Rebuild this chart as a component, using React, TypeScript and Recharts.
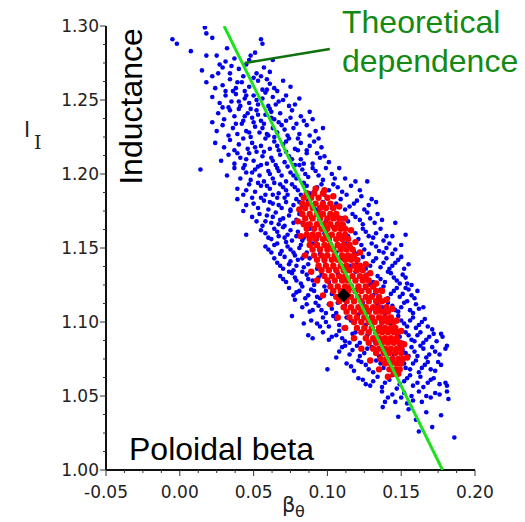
import { Scatter, ScatterChart, XAxis, YAxis } from "recharts";

type Pt = [number, number];

// blue: all shots (beta_theta, l_i)
const bluePoints: Pt[] = [
  [-0.005, 1.291], [-0.002, 1.288], [0.017, 1.299], [0.018, 1.295], [0.022, 1.292], [0.055, 1.291], [0.056, 1.288],
  [0.0075, 1.283], [0.032, 1.285], [0.025, 1.28], [0.018, 1.28], [0.051, 1.282], [0.048, 1.28],
  [0.031, 1.276], [0.029, 1.272], [0.035, 1.273], [0.015, 1.27], [0.061, 1.269], [0.04, 1.271], [0.045, 1.274],
  [0.052, 1.268], [0.057, 1.272], [0.063, 1.277], [0.043, 1.266], [0.022, 1.266], [0.037, 1.278], [0.026, 1.268],
  [0.018, 1.262], [0.029, 1.26], [0.034, 1.264], [0.038, 1.258], [0.042, 1.262], [0.047, 1.259], [0.053, 1.263],
  [0.056, 1.257], [0.061, 1.261], [0.066, 1.256], [0.075, 1.259], [0.031, 1.256], [0.044, 1.256], [0.05, 1.265],
  [0.07, 1.263], [0.024, 1.258],
  [0.022, 1.252], [0.027, 1.248], [0.031, 1.253], [0.035, 1.249], [0.038, 1.254], [0.041, 1.246], [0.044, 1.251],
  [0.047, 1.248], [0.05, 1.253], [0.053, 1.247], [0.056, 1.251], [0.06, 1.246], [0.063, 1.252], [0.067, 1.249],
  [0.072, 1.253], [0.078, 1.247], [0.081, 1.251], [0.033, 1.245], [0.058, 1.255],
  [0.022, 1.235], [0.026, 1.241], [0.03, 1.237], [0.034, 1.243], [0.037, 1.239], [0.04, 1.244], [0.043, 1.236],
  [0.046, 1.241], [0.049, 1.238], [0.052, 1.243], [0.055, 1.236], [0.058, 1.24], [0.061, 1.244], [0.064, 1.237],
  [0.068, 1.241], [0.072, 1.236], [0.076, 1.243], [0.082, 1.239], [0.088, 1.242], [0.09, 1.237], [0.053, 1.24],
  [0.025, 1.229], [0.029, 1.233], [0.033, 1.226], [0.036, 1.231], [0.039, 1.227], [0.042, 1.234], [0.045, 1.229],
  [0.048, 1.225], [0.051, 1.232], [0.054, 1.228], [0.057, 1.234], [0.06, 1.226], [0.063, 1.231], [0.066, 1.228],
  [0.069, 1.233], [0.073, 1.226], [0.077, 1.231], [0.081, 1.227], [0.086, 1.233], [0.092, 1.229], [0.097, 1.231],
  [0.024, 1.221], [0.03, 1.218], [0.034, 1.223], [0.037, 1.216], [0.04, 1.22], [0.043, 1.224], [0.046, 1.217],
  [0.049, 1.221], [0.052, 1.215], [0.055, 1.219], [0.058, 1.224], [0.061, 1.217], [0.064, 1.222], [0.067, 1.216],
  [0.07, 1.22], [0.074, 1.224], [0.078, 1.217], [0.082, 1.221], [0.086, 1.216], [0.091, 1.222], [0.096, 1.218],
  [0.028, 1.209], [0.033, 1.213], [0.037, 1.207], [0.041, 1.211], [0.044, 1.206], [0.047, 1.214], [0.05, 1.209],
  [0.053, 1.205], [0.056, 1.212], [0.059, 1.207], [0.062, 1.211], [0.065, 1.206], [0.068, 1.213], [0.071, 1.208],
  [0.074, 1.212], [0.078, 1.206], [0.082, 1.21], [0.086, 1.214], [0.09, 1.207], [0.095, 1.211], [0.101, 1.208],
  [0.014, 1.203], [0.032, 1.199], [0.037, 1.204], [0.041, 1.197], [0.045, 1.201], [0.048, 1.196], [0.051, 1.203],
  [0.054, 1.199], [0.057, 1.195], [0.06, 1.202], [0.063, 1.197], [0.066, 1.204], [0.069, 1.199], [0.072, 1.195],
  [0.075, 1.201], [0.079, 1.197], [0.083, 1.203], [0.087, 1.198], [0.092, 1.202], [0.097, 1.196], [0.103, 1.2],
  [0.108, 1.204], [0.112, 1.197], [0.127, 1.195],
  [0.039, 1.19], [0.043, 1.186], [0.047, 1.193], [0.051, 1.188], [0.055, 1.192], [0.058, 1.186], [0.061, 1.19],
  [0.064, 1.194], [0.067, 1.187], [0.07, 1.191], [0.073, 1.186], [0.076, 1.193], [0.08, 1.189], [0.084, 1.194],
  [0.088, 1.187], [0.093, 1.191], [0.098, 1.186], [0.104, 1.193], [0.11, 1.188], [0.116, 1.192], [0.122, 1.189],
  [0.039, 1.183], [0.045, 1.179], [0.049, 1.184], [0.053, 1.177], [0.057, 1.182], [0.06, 1.176], [0.063, 1.18],
  [0.066, 1.184], [0.069, 1.177], [0.072, 1.181], [0.075, 1.176], [0.079, 1.183], [0.083, 1.178], [0.087, 1.182],
  [0.092, 1.176], [0.097, 1.181], [0.103, 1.177], [0.109, 1.183], [0.115, 1.178], [0.12, 1.182], [0.125, 1.176],
  [0.13, 1.183], [0.133, 1.181],
  [0.043, 1.175], [0.052, 1.168], [0.056, 1.165], [0.049, 1.171], [0.059, 1.172], [0.062, 1.167], [0.065, 1.174],
  [0.068, 1.169], [0.071, 1.165], [0.074, 1.172], [0.077, 1.167], [0.081, 1.173], [0.085, 1.166], [0.089, 1.171],
  [0.094, 1.175], [0.099, 1.168], [0.105, 1.172], [0.111, 1.166], [0.117, 1.173], [0.122, 1.169], [0.127, 1.174],
  [0.132, 1.167], [0.137, 1.169], [0.146, 1.167],
  [0.045, 1.159], [0.055, 1.162], [0.06, 1.157], [0.064, 1.163], [0.067, 1.158], [0.07, 1.164], [0.073, 1.159],
  [0.076, 1.155], [0.08, 1.161], [0.084, 1.157], [0.088, 1.163], [0.093, 1.156], [0.098, 1.16], [0.104, 1.164],
  [0.11, 1.157], [0.116, 1.162], [0.121, 1.156], [0.126, 1.161], [0.131, 1.157], [0.136, 1.163], [0.14, 1.158],
  [0.144, 1.158], [0.153, 1.159],
  [0.058, 1.151], [0.062, 1.147], [0.066, 1.153], [0.069, 1.148], [0.072, 1.154], [0.075, 1.149], [0.078, 1.145],
  [0.082, 1.152], [0.086, 1.147], [0.09, 1.153], [0.095, 1.146], [0.1, 1.151], [0.106, 1.147], [0.112, 1.153],
  [0.118, 1.148], [0.123, 1.152], [0.128, 1.146], [0.133, 1.151], [0.138, 1.147], [0.142, 1.153], [0.146, 1.149],
  [0.15, 1.152],
  [0.064, 1.143], [0.068, 1.138], [0.071, 1.144], [0.074, 1.139], [0.077, 1.135], [0.08, 1.142], [0.084, 1.137],
  [0.088, 1.143], [0.093, 1.136], [0.098, 1.141], [0.104, 1.137], [0.11, 1.143], [0.116, 1.138], [0.121, 1.142],
  [0.126, 1.136], [0.131, 1.141], [0.136, 1.137], [0.14, 1.143], [0.144, 1.138], [0.148, 1.142], [0.152, 1.136],
  [0.155, 1.139],
  [0.068, 1.131], [0.072, 1.127], [0.076, 1.133], [0.079, 1.128], [0.083, 1.134], [0.087, 1.129], [0.091, 1.125],
  [0.096, 1.132], [0.101, 1.127], [0.107, 1.133], [0.113, 1.128], [0.119, 1.134], [0.124, 1.129], [0.129, 1.125],
  [0.134, 1.131], [0.139, 1.127], [0.143, 1.133], [0.147, 1.128], [0.151, 1.132], [0.154, 1.126], [0.157, 1.125],
  [0.074, 1.123], [0.077, 1.118], [0.081, 1.121], [0.085, 1.116], [0.089, 1.122], [0.093, 1.117], [0.098, 1.124],
  [0.103, 1.119], [0.109, 1.115], [0.115, 1.122], [0.121, 1.117], [0.126, 1.123], [0.131, 1.118], [0.136, 1.122],
  [0.141, 1.116], [0.145, 1.121], [0.149, 1.117], [0.153, 1.123], [0.157, 1.118], [0.161, 1.121],
  [0.078, 1.115], [0.083, 1.11], [0.088, 1.107], [0.092, 1.113], [0.096, 1.108], [0.101, 1.112], [0.106, 1.106],
  [0.112, 1.111], [0.118, 1.107], [0.124, 1.113], [0.129, 1.108], [0.134, 1.112], [0.139, 1.106], [0.144, 1.111],
  [0.148, 1.107], [0.152, 1.113], [0.156, 1.108], [0.16, 1.112], [0.165, 1.11],
  [0.076, 1.104], [0.084, 1.099], [0.093, 1.099], [0.097, 1.103], [0.101, 1.097], [0.106, 1.102], [0.111, 1.096],
  [0.116, 1.101], [0.121, 1.105], [0.126, 1.098], [0.131, 1.103], [0.136, 1.097], [0.141, 1.102], [0.146, 1.096],
  [0.15, 1.101], [0.154, 1.097], [0.158, 1.103], [0.162, 1.098], [0.166, 1.102], [0.171, 1.095],
  [0.087, 1.091], [0.09, 1.089], [0.103, 1.09], [0.108, 1.094], [0.112, 1.087], [0.117, 1.092], [0.122, 1.086],
  [0.127, 1.091], [0.132, 1.087], [0.137, 1.093], [0.142, 1.088], [0.147, 1.092], [0.151, 1.086], [0.155, 1.091],
  [0.159, 1.087], [0.163, 1.093], [0.167, 1.088], [0.172, 1.092], [0.177, 1.092], [0.178, 1.09],
  [0.106, 1.076], [0.11, 1.083], [0.115, 1.078], [0.12, 1.084], [0.125, 1.079], [0.13, 1.083], [0.135, 1.077],
  [0.14, 1.082], [0.145, 1.078], [0.149, 1.084], [0.153, 1.079], [0.157, 1.083], [0.161, 1.077], [0.165, 1.082],
  [0.169, 1.078], [0.173, 1.08], [0.18, 1.082], [0.181, 1.084],
  [0.1, 1.068], [0.113, 1.072], [0.118, 1.067], [0.123, 1.073], [0.128, 1.068], [0.133, 1.074], [0.138, 1.069],
  [0.143, 1.073], [0.148, 1.067], [0.152, 1.072], [0.156, 1.068], [0.16, 1.074], [0.164, 1.069], [0.168, 1.073],
  [0.173, 1.067], [0.177, 1.071],
  [0.121, 1.062], [0.126, 1.058], [0.129, 1.057], [0.134, 1.063], [0.139, 1.059], [0.144, 1.064], [0.149, 1.058],
  [0.154, 1.062], [0.158, 1.057], [0.163, 1.063], [0.168, 1.059], [0.172, 1.062], [0.181, 1.057], [0.18, 1.059],
  [0.137, 1.053], [0.139, 1.046], [0.144, 1.051], [0.15, 1.049], [0.154, 1.045], [0.158, 1.047], [0.162, 1.053],
  [0.167, 1.05], [0.173, 1.052], [0.181, 1.053], [0.182, 1.048],
  [0.1375, 1.0425], [0.148, 1.036], [0.167, 1.039], [0.177, 1.037], [0.155, 1.041], [0.16, 1.034],
  [0.162, 1.026], [0.171, 1.029], [0.186, 1.022],
];

// blue: extra shots in the dense middle of the cloud
const blueCorePoints: Pt[] = [
  [0.034, 1.268], [0.047, 1.277], [0.055, 1.266], [0.039, 1.262], [0.059, 1.264], [0.027, 1.274], [0.064, 1.258],
  [0.036, 1.256], [0.045, 1.253], [0.052, 1.25], [0.059, 1.257], [0.065, 1.247], [0.04, 1.249], [0.07, 1.25],
  [0.048, 1.244], [0.062, 1.242], [0.029, 1.245], [0.074, 1.246],
  [0.038, 1.234], [0.044, 1.239], [0.05, 1.235], [0.056, 1.231], [0.062, 1.238], [0.067, 1.235], [0.071, 1.23],
  [0.075, 1.238], [0.079, 1.234], [0.084, 1.236], [0.047, 1.228], [0.059, 1.227], [0.064, 1.225], [0.072, 1.222],
  [0.08, 1.224], [0.088, 1.226], [0.094, 1.224],
  [0.039, 1.214], [0.045, 1.21], [0.051, 1.218], [0.057, 1.215], [0.063, 1.209], [0.066, 1.219], [0.072, 1.215],
  [0.076, 1.21], [0.08, 1.216], [0.084, 1.207], [0.088, 1.219], [0.093, 1.214], [0.098, 1.212], [0.043, 1.204],
  [0.049, 1.201], [0.055, 1.206], [0.061, 1.2], [0.067, 1.202], [0.073, 1.205], [0.077, 1.199], [0.081, 1.206],
  [0.085, 1.2], [0.09, 1.204], [0.094, 1.199], [0.099, 1.204], [0.105, 1.197],
  [0.045, 1.189], [0.053, 1.194], [0.059, 1.192], [0.063, 1.186], [0.068, 1.193], [0.072, 1.189], [0.078, 1.191],
  [0.082, 1.186], [0.086, 1.192], [0.091, 1.188], [0.096, 1.193], [0.101, 1.189], [0.107, 1.191], [0.113, 1.186],
  [0.119, 1.195], [0.05, 1.18], [0.055, 1.184], [0.061, 1.181], [0.067, 1.179], [0.071, 1.184], [0.077, 1.179],
  [0.081, 1.181], [0.106, 1.18], [0.112, 1.176], [0.118, 1.18], [0.123, 1.185], [0.128, 1.179],
  [0.054, 1.173], [0.058, 1.168], [0.063, 1.171], [0.067, 1.166], [0.07, 1.17], [0.075, 1.175], [0.079, 1.169],
  [0.083, 1.167], [0.11, 1.17], [0.114, 1.168], [0.119, 1.171], [0.124, 1.166], [0.129, 1.17], [0.134, 1.173],
  [0.058, 1.16], [0.062, 1.156], [0.066, 1.161], [0.071, 1.157], [0.075, 1.162], [0.079, 1.158], [0.083, 1.155],
  [0.114, 1.158], [0.119, 1.16], [0.124, 1.163], [0.128, 1.158], [0.133, 1.16], [0.138, 1.155],
  [0.06, 1.149], [0.064, 1.152], [0.068, 1.146], [0.073, 1.151], [0.077, 1.147], [0.081, 1.15], [0.084, 1.145],
  [0.116, 1.15], [0.12, 1.146], [0.125, 1.149], [0.13, 1.153], [0.135, 1.148], [0.14, 1.15], [0.144, 1.146],
  [0.066, 1.14], [0.07, 1.136], [0.075, 1.141], [0.079, 1.138], [0.083, 1.143], [0.087, 1.139], [0.12, 1.139],
  [0.124, 1.144], [0.129, 1.138], [0.133, 1.143], [0.138, 1.14], [0.142, 1.136], [0.146, 1.14], [0.15, 1.144],
  [0.07, 1.129], [0.074, 1.134], [0.078, 1.13], [0.082, 1.126], [0.086, 1.132], [0.09, 1.128], [0.094, 1.13],
  [0.127, 1.132], [0.131, 1.127], [0.136, 1.129], [0.141, 1.134], [0.145, 1.13], [0.149, 1.126], [0.153, 1.13],
  [0.079, 1.12], [0.083, 1.124], [0.087, 1.118], [0.091, 1.121], [0.095, 1.116], [0.099, 1.121], [0.133, 1.12],
  [0.138, 1.124], [0.143, 1.119], [0.147, 1.123], [0.151, 1.119], [0.155, 1.122], [0.159, 1.116],
  [0.086, 1.112], [0.09, 1.108], [0.094, 1.111], [0.099, 1.106], [0.103, 1.109], [0.107, 1.113], [0.137, 1.11],
  [0.141, 1.113], [0.146, 1.108], [0.15, 1.11], [0.154, 1.114], [0.158, 1.106], [0.162, 1.109], [0.089, 1.101],
  [0.095, 1.097], [0.099, 1.1], [0.104, 1.104], [0.108, 1.098], [0.113, 1.103], [0.143, 1.099], [0.148, 1.104],
  [0.152, 1.099], [0.156, 1.101], [0.16, 1.096], [0.164, 1.1], [0.168, 1.097],
  [0.097, 1.093], [0.101, 1.088], [0.106, 1.091], [0.11, 1.089], [0.115, 1.086], [0.119, 1.093], [0.149, 1.09],
  [0.153, 1.093], [0.157, 1.088], [0.161, 1.091], [0.165, 1.086], [0.169, 1.09], [0.174, 1.087], [0.108, 1.08],
  [0.112, 1.084], [0.117, 1.081], [0.122, 1.077], [0.127, 1.082], [0.151, 1.081], [0.155, 1.077], [0.159, 1.08],
  [0.163, 1.084], [0.167, 1.076], [0.171, 1.083], [0.176, 1.078],
  [0.116, 1.07], [0.121, 1.074], [0.126, 1.071], [0.131, 1.066], [0.136, 1.072], [0.153, 1.069], [0.158, 1.072],
  [0.162, 1.066], [0.166, 1.071], [0.17, 1.068], [0.175, 1.073], [0.124, 1.061], [0.131, 1.06], [0.137, 1.056],
  [0.142, 1.061], [0.147, 1.055], [0.152, 1.06], [0.156, 1.064], [0.161, 1.059], [0.165, 1.056], [0.17, 1.061],
  [0.176, 1.058],
  [0.141, 1.049], [0.146, 1.046], [0.152, 1.052], [0.157, 1.05], [0.164, 1.046], [0.17, 1.049], [0.176, 1.051],
];

// red: selected subset, dense core along the line (l_i row, beta_theta values)
const redRows: [number, number[]][] = [
  [1.187, [0.086, 0.091, 0.097]],
  [1.184, [0.084, 0.089, 0.094, 0.1]],
  [1.18, [0.083, 0.087, 0.092, 0.097, 0.102]],
  [1.177, [0.085, 0.09, 0.095, 0.099, 0.104]],
  [1.173, [0.083, 0.088, 0.093, 0.097, 0.102, 0.106]],
  [1.17, [0.085, 0.09, 0.095, 0.1, 0.104, 0.108]],
  [1.166, [0.084, 0.088, 0.093, 0.098, 0.102, 0.107, 0.11]],
  [1.163, [0.086, 0.091, 0.096, 0.1, 0.105, 0.109, 0.112]],
  [1.159, [0.086, 0.09, 0.094, 0.099, 0.103, 0.108, 0.112]],
  [1.156, [0.088, 0.092, 0.097, 0.101, 0.106, 0.11, 0.114]],
  [1.152, [0.088, 0.093, 0.098, 0.102, 0.107, 0.111, 0.115]],
  [1.149, [0.09, 0.095, 0.1, 0.104, 0.109, 0.113, 0.117]],
  [1.145, [0.091, 0.096, 0.1, 0.105, 0.11, 0.114, 0.118]],
  [1.142, [0.093, 0.098, 0.103, 0.107, 0.112, 0.116, 0.12]],
  [1.138, [0.094, 0.099, 0.104, 0.109, 0.113, 0.118, 0.122]],
  [1.135, [0.096, 0.101, 0.106, 0.111, 0.115, 0.12, 0.124]],
  [1.131, [0.098, 0.103, 0.108, 0.112, 0.117, 0.122, 0.126]],
  [1.128, [0.1, 0.105, 0.11, 0.114, 0.119, 0.124, 0.128]],
  [1.124, [0.102, 0.107, 0.112, 0.116, 0.121, 0.126, 0.131]],
  [1.121, [0.104, 0.109, 0.114, 0.119, 0.123, 0.128, 0.133]],
  [1.117, [0.106, 0.111, 0.116, 0.121, 0.126, 0.13, 0.135]],
  [1.114, [0.108, 0.113, 0.118, 0.123, 0.128, 0.133, 0.137]],
  [1.11, [0.111, 0.116, 0.121, 0.126, 0.131, 0.135, 0.14]],
  [1.107, [0.113, 0.118, 0.123, 0.128, 0.133, 0.137, 0.141]],
  [1.103, [0.115, 0.12, 0.125, 0.13, 0.135, 0.139, 0.143]],
  [1.1, [0.118, 0.123, 0.128, 0.132, 0.137, 0.141, 0.145]],
  [1.096, [0.12, 0.125, 0.13, 0.135, 0.139, 0.143, 0.146]],
  [1.093, [0.123, 0.128, 0.133, 0.137, 0.141, 0.145, 0.148]],
  [1.089, [0.126, 0.131, 0.135, 0.139, 0.143, 0.147]],
  [1.086, [0.128, 0.133, 0.137, 0.141, 0.145, 0.149]],
  [1.082, [0.131, 0.135, 0.139, 0.143, 0.147, 0.15]],
  [1.079, [0.133, 0.138, 0.142, 0.146, 0.15]],
  [1.075, [0.136, 0.14, 0.144, 0.148, 0.151]],
  [1.072, [0.139, 0.143, 0.147, 0.15]],
  [1.068, [0.142, 0.146, 0.149]],
  [1.065, [0.145, 0.148]],
];

// red: loose shots along the ragged edge of the red core
const redEdgePoints: Pt[] = [
  [0.081, 1.176], [0.08, 1.168], [0.082, 1.158], [0.085, 1.145], [0.089, 1.134], [0.093, 1.128], [0.097, 1.118],
  [0.102, 1.112], [0.107, 1.103], [0.112, 1.096], [0.118, 1.089], [0.123, 1.082], [0.129, 1.074], [0.135, 1.068],
  [0.141, 1.063], [0.104, 1.185], [0.108, 1.178], [0.112, 1.17], [0.116, 1.162], [0.119, 1.154], [0.122, 1.147],
  [0.126, 1.139], [0.129, 1.133], [0.133, 1.126], [0.137, 1.121], [0.14, 1.115], [0.144, 1.109], [0.147, 1.101],
  [0.15, 1.094], [0.152, 1.085], [0.154, 1.076], [0.092, 1.19], [0.098, 1.189],
];

const theoryLine: Pt[] = [[0.03, 1.3], [0.178, 1.0]];
const calloutLine: Pt[] = [[0.044, 1.275], [0.1016, 1.2845]];
const meanPoint: Pt[] = [[0.111, 1.118]];

const xMajorTicks = [-0.05, 0, 0.05, 0.1, 0.15, 0.2];
const yMajorTicks = [1.0, 1.05, 1.1, 1.15, 1.2, 1.25, 1.3];

const TICK_SIZE = 6;
const TICK_MARGIN = 2;
const TICK_FONT = "'DejaVu Sans', sans-serif";
const LABEL_FONT = "'Liberation Sans', Arial, sans-serif";

function withMinor(majors: number[]) {
  const out: number[] = [];
  majors.forEach((v, i) => {
    out.push(v);
    const next = majors[i + 1];
    if (next !== undefined) for (let k = 1; k < 4; k++) out.push(v + ((next - v) * k) / 4);
  });
  return out;
}

const isMajor = (v: number) => Math.abs(v * 20 - Math.round(v * 20)) < 1e-6;
const toXY = (pts: Pt[]) => pts.map(([x, y]) => ({ x, y }));

const blueData = toXY([...bluePoints, ...blueCorePoints]);
const redData = [...redRows.flatMap(([y, xs]) => xs.map((x) => ({ x, y }))), ...toXY(redEdgePoints)];

function XTick(props: any) {
  const { x, y, payload } = props;
  const axisY = y - TICK_SIZE - TICK_MARGIN;
  const major = isMajor(payload.value);
  return (
    <g>
      <line x1={x} x2={x} y1={axisY} y2={axisY + (major ? 6 : 3)} stroke="#333" />
      {major && (
        <text x={x} y={axisY + 22} textAnchor="middle" dominantBaseline="central" fontSize={17} fontFamily={TICK_FONT} fill="#222">
          {payload.value.toFixed(2)}
        </text>
      )}
    </g>
  );
}

function YTick(props: any) {
  const { x, y, payload } = props;
  const axisX = x + TICK_SIZE + TICK_MARGIN;
  const major = isMajor(payload.value);
  return (
    <g>
      <line x1={axisX - (major ? 6 : 3)} x2={axisX} y1={y} y2={y} stroke="#333" />
      {major && (
        <text x={axisX - 7} y={y} textAnchor="end" dominantBaseline="central" fontSize={17} fontFamily={TICK_FONT} fill="#222">
          {payload.value.toFixed(2)}
        </text>
      )}
    </g>
  );
}

export default function App() {
  return (
    <div style={{ position: "absolute", left: 0, top: 0, width: 525, height: 522, background: "#fff" }}>
      <ScatterChart width={525} height={522} margin={{ top: 26, right: 50, left: 0, bottom: 0 }}>
        <XAxis
          type="number"
          dataKey="x"
          domain={[-0.05, 0.2]}
          ticks={withMinor(xMajorTicks)}
          interval={0}
          height={52}
          allowDataOverflow
          tickSize={TICK_SIZE}
          tickMargin={TICK_MARGIN}
          tickLine={false}
          axisLine={{ stroke: "#111", strokeWidth: 2 }}
          tick={<XTick />}
        />
        <YAxis
          type="number"
          dataKey="y"
          domain={[1.0, 1.3]}
          ticks={withMinor(yMajorTicks)}
          interval={0}
          width={106}
          allowDataOverflow
          tickSize={TICK_SIZE}
          tickMargin={TICK_MARGIN}
          tickLine={false}
          axisLine={{ stroke: "#111", strokeWidth: 2 }}
          tick={<YTick />}
        />
        <Scatter
          data={blueData}
          isAnimationActive={false}
          shape={(p: any) => <circle cx={p.cx} cy={p.cy} r={2.3} fill="#0000ee" />}
        />
        <Scatter
          data={redData}
          isAnimationActive={false}
          shape={(p: any) => <circle cx={p.cx} cy={p.cy} r={3.2} fill="#ff0000" />}
        />
        <Scatter
          data={toXY(theoryLine)}
          isAnimationActive={false}
          line={{ stroke: "#1ee01e", strokeWidth: 3 }}
          shape={() => <g />}
        />
        <Scatter
          data={toXY(calloutLine)}
          isAnimationActive={false}
          line={{ stroke: "#0f700f", strokeWidth: 2.5 }}
          shape={() => <g />}
        />
        <Scatter
          data={toXY(meanPoint)}
          isAnimationActive={false}
          shape={(p: any) => (
            <polygon
              points={`${p.cx},${p.cy - 7} ${p.cx + 7},${p.cy} ${p.cx},${p.cy + 7} ${p.cx - 7},${p.cy}`}
              fill="#000"
            />
          )}
        />
      </ScatterChart>
      <svg width={525} height={522} style={{ position: "absolute", left: 0, top: 0, pointerEvents: "none" }}>
        <text transform="translate(142,106.5) rotate(-90)" textAnchor="middle" fontSize={32} fontFamily={LABEL_FONT} fill="#000">
          Inductance
        </text>
        <text x={129} y={460} fontSize={32} fontFamily={LABEL_FONT} fill="#000">
          Poloidal beta
        </text>
        <text x={342} y={33} fontSize={32} fontFamily={LABEL_FONT} fill="#138a13">
          Theoretical
        </text>
        <text x={342} y={72} fontSize={32} fontFamily={LABEL_FONT} fill="#138a13">
          dependence
        </text>
        <text x={24} y={137} fontSize={22} fontFamily={TICK_FONT} fill="#222">
          l
        </text>
        <text x={34} y={149} fontSize={19} fontFamily="'DejaVu Serif', serif" fill="#222">
          I
        </text>
        <text x={282} y={512} fontSize={21} fontFamily={TICK_FONT} fill="#222">
          β
        </text>
        <text x={295} y={517} fontSize={16} fontFamily={TICK_FONT} fill="#222">
          θ
        </text>
      </svg>
    </div>
  );
}
